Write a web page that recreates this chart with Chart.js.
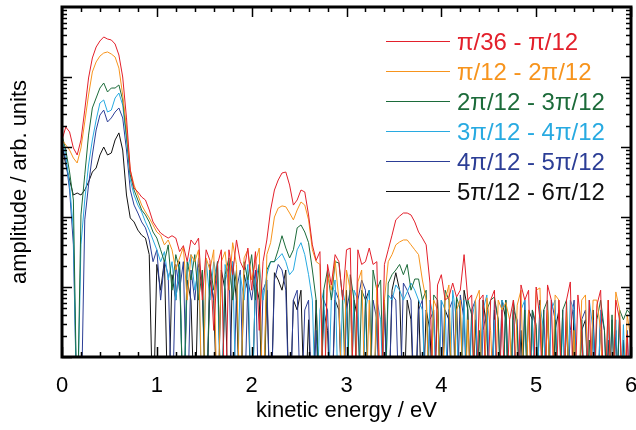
<!DOCTYPE html>
<html><head><meta charset="utf-8">
<script src="https://cdn.jsdelivr.net/npm/chart.js@4.4.1/dist/chart.umd.min.js"></script>
<style>html,body{margin:0;padding:0;background:#fff}#wrap{width:636px;height:430px;position:relative}</style>
</head><body><div id="wrap"><canvas id="c"></canvas></div>
<script>
// ---- data (amplitude, arb. units; sampled every 0.04 eV from 0 to 6 eV) ----
const seriesNames = ['\u03c0/36 - \u03c0/12','\u03c0/12 - 2\u03c0/12','2\u03c0/12 - 3\u03c0/12','3\u03c0/12 - 4\u03c0/12','4\u03c0/12 - 5\u03c0/12','5\u03c0/12 - 6\u03c0/12'];
const xTickValues = [0,1,2,3,4,5,6];
const energyStep = 0.04;

const red = [1260,1930,1640,968,769,1260,3370,9680,18700,26800,
32700,37300,34900,33800,29600,20600,10000,2600,469,259,
228,193,175,126,85,70,59,54,50,54,
50,32,39,23,47,40,50,6.5,34,24,
2.4,21,34,0.1,34,15,47,23,17.5,36,
9,32,2.4,23,47,126,243,338,425,439,
286,148,175,243,228,107,40,24,32,0.1,
21,10.7,29,23,6.5,34,36,0.1,34,21,
23,36,21,23,0.1,21,34,55,91,103,
114,114,107,85,61,50,40,11.4,0.1,10.7,
15,6.5,7.2,11.4,7.2,9,29,6.5,7.7,0.1,
6.5,7.7,0.1,6.5,9,0.1,4.7,0.1,3.4,6.5,
0.1,10.7,6.5,9,0.1,10,3.4,0.1,10.7,6.5,
0.1,6.5,0.1,6.5,11.8,0.1,7.7,2.4,0.1,6.5,
0.1,5.5,9,0.1,6.5,0.1,6.5,3.4,0.1,2.1,
0.1];

const orange = [1260,1070,906,696,591,968,2280,5530,11800,16400,
19900,22000,22800,21300,19300,13400,5530,1870,469,286,
206,148,118,97,77,61,55,40,47,34,
17.5,26,37,6.5,29,23,34,0.1,26,17.5,
34,0.1,23,32,9,43,21,0.1,26,34,
12.6,23,36,0.1,29,43,100,134,144,140,
114,91,126,164,148,91,34,23,21,0.1,
15,9,24,6.5,0.1,17.5,9,0.1,11.8,17.5,
0.1,6.5,0.1,10.7,0.1,6.5,23,29,40,44,
47,47,40,34,29,12.6,6.5,0.1,6.5,4.7,
0.1,6.5,10.7,0.1,4.7,6.5,0.1,3.4,0.1,6.5,
9,0.1,7,2.4,0.1,6.5,4.7,6,3.4,0.1,
5.5,9,0.1,4.7,0.1,9,9.7,0.1,4.7,0.1,
7.7,6.5,0.1,4.7,0.1,2.4,0.1,6.5,7.7,0.1,
6.5,6.5,2.4,0.1,6.5,0.1,8.5,4.7,0.1,4,
1.75];

const green = [1480,906,439,175,0.1,107,400,1480,3610,5010,
6960,8210,6110,6960,6960,7690,4700,1480,400,243,
175,126,107,85,61,50,34,23,40,9,
29,17.5,0.1,23,12.6,29,6.5,17.5,0.1,21,
9,23,0.1,15,26,6.5,17.5,0.1,23,12.6,
29,6.5,21,0.1,17.5,23,23,34,54,36,
26,34,70,77,61,43,17.5,6.5,0.1,9,
17.5,6.5,23,22,6.5,0.1,15,6.5,0.1,9,
6.5,0.1,17.5,9,12.6,0.1,11.4,15,17.5,21,
15,21,9,13,13,6.5,9,0.1,7.7,6.5,
0.1,9,6.5,0.1,7.2,4.7,0.1,6.5,4,0.1,
2.4,0.1,4.7,6.5,7.2,3.4,0.1,6.5,0.1,6.5,
2.4,0.1,4.7,0.1,4.7,2.9,0.1,4.7,6.5,0.1,
3.4,0.1,4.7,6.5,0.1,2.4,0.1,3.4,0.1,1.75,
0.1,3.4,6.5,2.4,0.1,4,0.1,4.7,3.4,4.7,
4];

const lightBlue = [1260,769,286,65,0.1,40,175,553,1260,2430,
4250,4700,3160,3370,5010,5910,3980,1260,338,206,
148,118,85,65,47,34,23,32,12.6,23,
6.5,21,0.1,17.5,29,9,19,0.1,24,6.5,
23,12.6,0.1,21,9,23,0.1,15,6.5,21,
0.1,12.6,21,6.5,15,23,23,26,30,23,
15,17.5,34,43,29,15,6.5,0.1,4.7,9,
0.1,6.5,12.6,0.1,9,4.7,0.1,9,6.5,0.1,
4.7,9,0.1,6.5,3.4,0.1,7.7,6.5,10.7,9,
6.5,8.5,11.4,9,6.5,4.7,0.1,6.5,3.4,0.1,
6.5,4.7,0.1,9,3.4,0.1,6.5,0.1,3.4,6.5,
0.1,4.7,7.7,0.1,3.4,0.1,6.5,4.7,0.1,3.4,
0.1,4.7,6.5,0.1,3.4,0.1,5.5,2.4,0.1,4.7,
6.5,0.1,3.4,0.1,6.5,4.7,0.1,3.4,0.1,6.5,
2.4,0.1,4.7,0.1,3.4,0.1,3.4,0.1,2.9,0.1,
2.4];

const blue = [1070,652,243,40,0.1,0.1,91,286,769,1750,
2860,3370,2280,2600,3160,3610,2600,906,243,148,
114,85,70,47,23,34,6.5,23,15,0.1,
21,9,23,0.1,17.5,6.5,26,10.7,0.1,17.5,
6.5,23,0.1,12.6,21,0.1,9,17.5,0.1,12.6,
6.5,17.5,0.1,9,12.6,0.1,12.6,21,17.5,9,
0.1,6.5,9,0.1,4.7,6.5,0.1,2.4,0.1,6.5,
4.7,0.1,9,6.5,0.1,4.7,9,0.1,6.5,12.6,
9,0.1,6.5,3.4,0.1,4.7,0.1,7.7,6.5,0.1,
11.4,9,6.5,0.1,4.7,6.5,0.1,3.4,4.7,0.1,
6.5,0.1,4.7,6.5,0.1,7.7,3.4,0.1,4.7,6.5,
0.1,2.4,4.7,0.1,6.5,3.4,0.1,6.5,0.1,4.7,
3.4,0.1,6.5,0.1,4.7,2.4,0.1,4.7,0.1,6.5,
3.4,0.1,4.7,0.1,2.4,6.5,0.1,3.4,4.7,0.1,
3.4,0.1,4.7,2.4,0.1,3.4,0.1,4,0.1,2.4,
0.1];

const black = [1070,553,338,206,220,206,243,316,439,501,
769,1000,769,821,1260,1590,906,206,97,85,
65,55,50,29,0.1,21,9,24,0.1,15,
6.5,23,0.1,12.6,6.5,0.1,21,9,0.1,12.6,
6.5,0.1,17.5,9,0.1,23,6.5,0.1,15,9,
0.1,12.6,6.5,0.1,9,0.1,16,12.6,9,17.5,
0.1,6.5,4.7,9,0.1,3.4,0.1,6.5,0.1,4.7,
2.4,0.1,6.5,4.7,0.1,9,0.1,6.5,3.4,0.1,
6.5,9,0.1,4.7,0.1,6.5,0.1,9,16,9,
0.1,6.5,3.4,0.1,6.5,0.1,4.7,2.4,0.1,6.5,
0.1,4.7,3.4,0.1,6.5,0.1,9,4.7,0.1,3.4,
0.1,6.5,2.4,0.1,4.7,0.1,6.5,3.4,0.1,4.7,
0.1,2.4,0.1,4.7,3.4,0.1,6.5,0.1,4.7,0.1,
2.4,4.7,0.1,3.4,0.1,4.7,0.1,2.4,3.4,0.1,
4.7,0.1,3.4,0.1,1.75,0.1,2.4,0.1,1.75,0.1,
0.1];

// ---- styles ----
const seriesColors = ['#e3202b','#f7941d','#1c6b3a','#28aae1','#2c3e96','#111111'];
const FONT = '"Liberation Sans", Arial, sans-serif';

const allSeries = [red, orange, green, lightBlue, blue, black];
const energy = red.map((_, i) => Math.round(i * energyStep * 100) / 100);

const datasets = allSeries.map((s, k) => ({
  label: seriesNames[k],
  data: s.map((v, i) => ({x: energy[i], y: v})),
  borderColor: seriesColors[k],
  borderWidth: 1,
  pointRadius: 0,
  tension: 0,
  fill: false
}));

const framePlugin = {
  id: 'frame',
  afterDatasetsDraw(chart) {
    const {ctx, chartArea: ca, scales: {x, y}} = chart;
    ctx.save();
    ctx.strokeStyle = '#000';
    ctx.lineWidth = 1.5;
    ctx.beginPath();
    for (let k = 0; k <= 30; k++) {
      const v = k * 0.2;
      const px = Math.round(x.getPixelForValue(v)) + 0.5;
      const len = (k % 5 === 0) ? 10 : 5;
      ctx.moveTo(px, ca.bottom); ctx.lineTo(px, ca.bottom - len);
      ctx.moveTo(px, ca.top); ctx.lineTo(px, ca.top + len);
    }
    for (let d = 0; d < 5; d++) {
      for (let m = 1; m <= 9; m++) {
        const v = m * Math.pow(10, d);
        const py = Math.round(y.getPixelForValue(v)) + 0.5;
        const len = (m === 1) ? 10 : 5;
        ctx.moveTo(ca.left, py); ctx.lineTo(ca.left + len, py);
        ctx.moveTo(ca.right, py); ctx.lineTo(ca.right - len, py);
      }
    }
    ctx.stroke();
    ctx.lineWidth = 3;
    ctx.strokeRect(ca.left, ca.top, ca.right - ca.left, ca.bottom - ca.top);

    // legend
    ctx.font = '24px ' + FONT;
    ctx.textBaseline = 'middle';
    ctx.textAlign = 'left';
    chart.data.datasets.forEach((ds, i) => {
      const ly = ca.top + 34 + 30 * i;
      ctx.strokeStyle = ds.borderColor;
      ctx.lineWidth = 1;
      ctx.beginPath();
      ctx.moveTo(386, ly + 0.5); ctx.lineTo(450, ly + 0.5);
      ctx.stroke();
      ctx.fillStyle = ds.borderColor;
      ctx.fillText(ds.label, 457, ly + 2);
    });
    ctx.restore();
  }
};

new Chart(document.getElementById('c'), {
  type: 'line',
  data: {datasets},
  options: {
    responsive: true,
    maintainAspectRatio: false,
    animation: false,
    devicePixelRatio: 1,
    layout: {padding: {top: 7, right: 5, left: 0, bottom: 0}},
    plugins: {legend: {display: false}, tooltip: {enabled: false}},
    scales: {
      x: {
        type: 'linear', min: 0, max: 6,
        afterBuildTicks: (s) => { s.ticks = xTickValues.map(v => ({value: v})); },
        afterFit: (s) => { s.height = 73; s.paddingLeft = 0; s.paddingRight = 0; },
        grid: {display: false}, border: {display: false},
        ticks: {color: '#000', font: {size: 22, family: FONT}, padding: 8, maxRotation: 0, callback: (v) => String(v)},
        title: {display: true, text: 'kinetic energy / eV', color: '#000', font: {size: 22, family: FONT}, padding: {top: 0, bottom: 6}}
      },
      y: {
        type: 'logarithmic', min: 1, max: 100000,
        afterFit: (s) => { s.width = 62; s.paddingTop = 0; s.paddingBottom = 0; },
        grid: {display: false}, border: {display: false},
        ticks: {display: false},
        title: {display: true, text: 'amplitude / arb. units', color: '#000', font: {size: 22, family: FONT}, padding: {top: 7, bottom: 0}}
      }
    }
  },
  plugins: [framePlugin]
});
</script></body></html>
